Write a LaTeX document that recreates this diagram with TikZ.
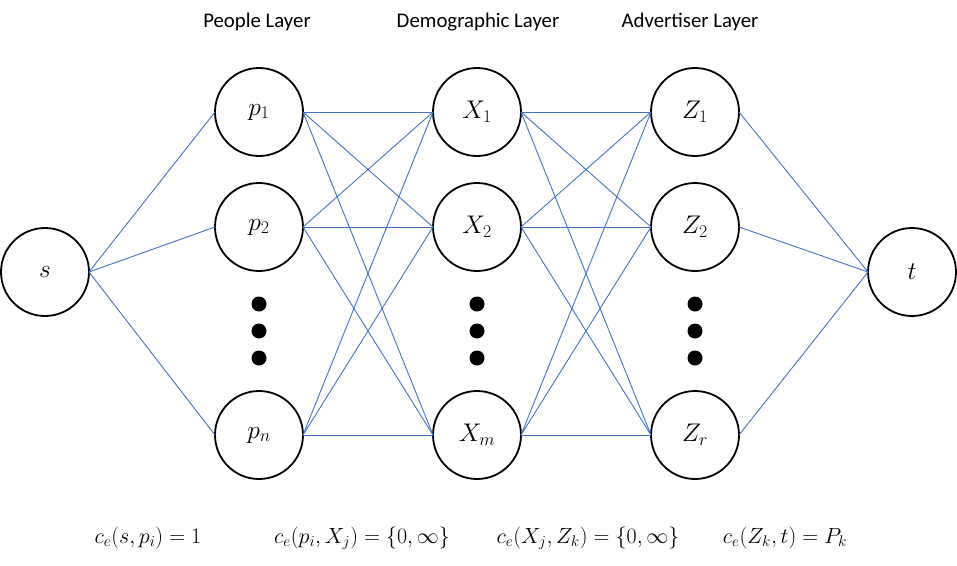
\RequirePackage{fix-cm}
\documentclass[tikz,border=0pt]{standalone}
\usepackage{fontspec}
\setmainfont{Carlito}
\definecolor{edgeblue}{RGB}{68,114,196}
\begin{document}
\begin{tikzpicture}[x=1pt,y=-1pt,
  vertex/.style={circle,draw=black,line width=1.8pt,minimum size=88pt,inner sep=0pt,outer sep=0pt,font=\fontsize{25.5}{30}\selectfont},
  link/.style={draw=edgeblue,line width=0.9pt},
  bigdot/.style={circle,fill=black,minimum size=15pt,inner sep=0pt},
  layerlabel/.style={anchor=base,font=\fontsize{20.8}{24}\selectfont},
  formula/.style={anchor=base,font=\fontsize{22}{26}\selectfont}]
\useasboundingbox (0,0) rectangle (957,565);
% nodes
\node[vertex] (s) at (45,272) {$s$};
\node[vertex] (p1) at (259,112) {$p_1$};
\node[vertex] (p2) at (259,227) {$p_2$};
\node[vertex] (pn) at (259,435) {$p_n$};
\node[vertex] (X1) at (477,112) {$X_1$};
\node[vertex] (X2) at (477,227) {$X_2$};
\node[vertex] (Xm) at (477,435) {$X_m$};
\node[vertex] (Z1) at (695,112) {$Z_1$};
\node[vertex] (Z2) at (695,227) {$Z_2$};
\node[vertex] (Zr) at (695,435) {$Z_r$};
\node[vertex] (t) at (912,272) {$t$};
% dots
\foreach \c/\x in {pd/259,xd/477,zd/695}{
  \node[bigdot] (\c1) at (\x,304) {};
  \node[bigdot] (\c2) at (\x,331) {};
  \node[bigdot] (\c3) at (\x,358) {};
}
% edges
\foreach \p in {p1,p2,pn}{\draw[link] (s.east) -- (\p.west);}
\foreach \p in {p1,p2,pn}{\foreach \x in {X1,X2,Xm}{\draw[link] (\p.east) -- (\x.west);}}
\foreach \x in {X1,X2,Xm}{\foreach \z in {Z1,Z2,Zr}{\draw[link] (\x.east) -- (\z.west);}}
\foreach \z in {Z1,Z2,Zr}{\draw[link] (\z.east) -- (t.west);}
% labels
\node[layerlabel] (lp) at (257,27) {People Layer};
\node[layerlabel] (lx) at (478,27) {Demographic Layer};
\node[layerlabel] (lz) at (690,27) {Advertiser Layer};
% formulas
\node[formula] (f1) at (148,543) {$c_e(s,p_i)=1$};
\node[formula] (f2) at (362,543) {$c_e\bigl(p_i,X_j\bigr)=\{0,\infty\}$};
\node[formula] (f3) at (588,543) {$c_e\bigl(X_j,Z_k\bigr)=\{0,\infty\}$};
\node[formula] (f4) at (785,543) {$c_e(Z_k,t)=P_k$};
\end{tikzpicture}
\end{document}
